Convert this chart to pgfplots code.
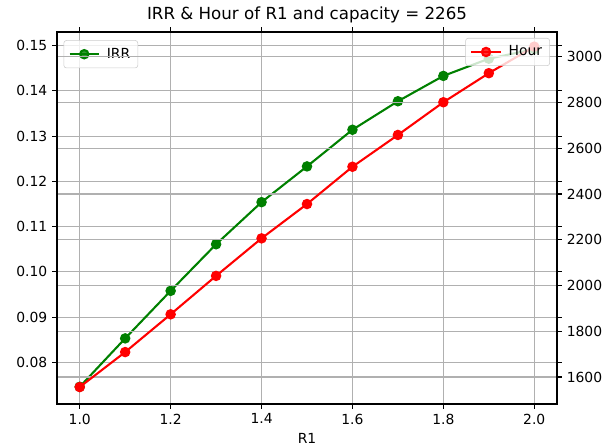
\documentclass[border=0pt]{standalone}
\usepackage{fontspec}
\setmainfont{DejaVu Sans}
\usepackage{pgfplots}
\pgfplotsset{compat=1.18}

\definecolor{mplgreen}{RGB}{0,128,0}
\definecolor{mplred}{RGB}{255,0,0}
\definecolor{gridgray}{RGB}{176,176,176}

\pgfplotsset{twin/.style={
  scale only axis, width=360pt, height=267.84pt,
  at={(0,0)}, anchor=south west,
  xmin=0.95, xmax=2.05,
  grid style={gridgray, line width=0.8pt},
  tick align=outside, major tick length=3.5pt,
  tick style={black, line width=0.8pt},
  axis line style={line width=0.8pt},
  tick label style={font=\fontsize{10}{12}\selectfont},
  /pgf/number format/assume math mode=true,
  legend style={font=\fontsize{10}{12}\selectfont, draw=black!20, fill=white,
    fill opacity=0.8, text opacity=1, rounded corners=2pt,
    inner xsep=3.5pt, inner ysep=3.5pt,
    /tikz/every odd column/.append style={column sep=3pt}},
  legend cell align=left,
  legend image code/.code={
    \draw[mark repeat=2, mark phase=2] plot coordinates {(0pt,0pt) (10.5pt,0pt) (21pt,0pt)};},
}}

\begin{document}
\begin{tikzpicture}
\useasboundingbox (-41.04pt,-30.96pt) rectangle (401.76pt,290.88pt);

\begin{axis}[twin,
    ymin=0.0708, ymax=0.153,
    xtick={1.0,1.2,1.4,1.6,1.8,2.0},
    xticklabel style={/pgf/number format/.cd, fixed, fixed zerofill, precision=1},
    ytick={0.08,0.09,0.10,0.11,0.12,0.13,0.14,0.15},
    yticklabel style={/pgf/number format/.cd, fixed, fixed zerofill, precision=2},
    xmajorgrids, ymajorgrids,
    xlabel={R1},
    xlabel style={font=\fontsize{10}{12}\selectfont},
    title={IRR \& Hour of R1 and capacity = 2265},
    title style={font=\fontsize{12}{14}\selectfont, yshift=-3pt},
    legend style={at={(0.013,0.978)}, anchor=north west},
]
\addplot[mplgreen, line width=1.5pt, mark=*, mark size=3pt, mark options={solid, fill=mplgreen}]
  coordinates {(1.0,0.0746) (1.1,0.0853) (1.2,0.0958) (1.3,0.1061) (1.4,0.1154)
               (1.5,0.1233) (1.6,0.1314) (1.7,0.1377) (1.8,0.1433) (1.9,0.1471) (2.0,0.1492)};
\addlegendentry{IRR}
\end{axis}

\begin{axis}[twin,
    ymin=1482, ymax=3108,
    hide x axis,
    ytick pos=right, yticklabel pos=right,
    ytick={1600,1800,2000,2200,2400,2600,2800,3000},
    yticklabel style={/pgf/number format/.cd, 1000 sep={}},
    ymajorgrids,
    legend style={at={(0.986,0.984)}, anchor=north east},
]
\addplot[mplred, line width=1.5pt, mark=*, mark size=3pt, mark options={solid, fill=mplred}]
  coordinates {(1.0,1556) (1.1,1709) (1.2,1874) (1.3,2042) (1.4,2206)
               (1.5,2356) (1.6,2519) (1.7,2658) (1.8,2801) (1.9,2928) (2.0,3044)};
\addlegendentry{Hour}
\end{axis}
\end{tikzpicture}
\end{document}
